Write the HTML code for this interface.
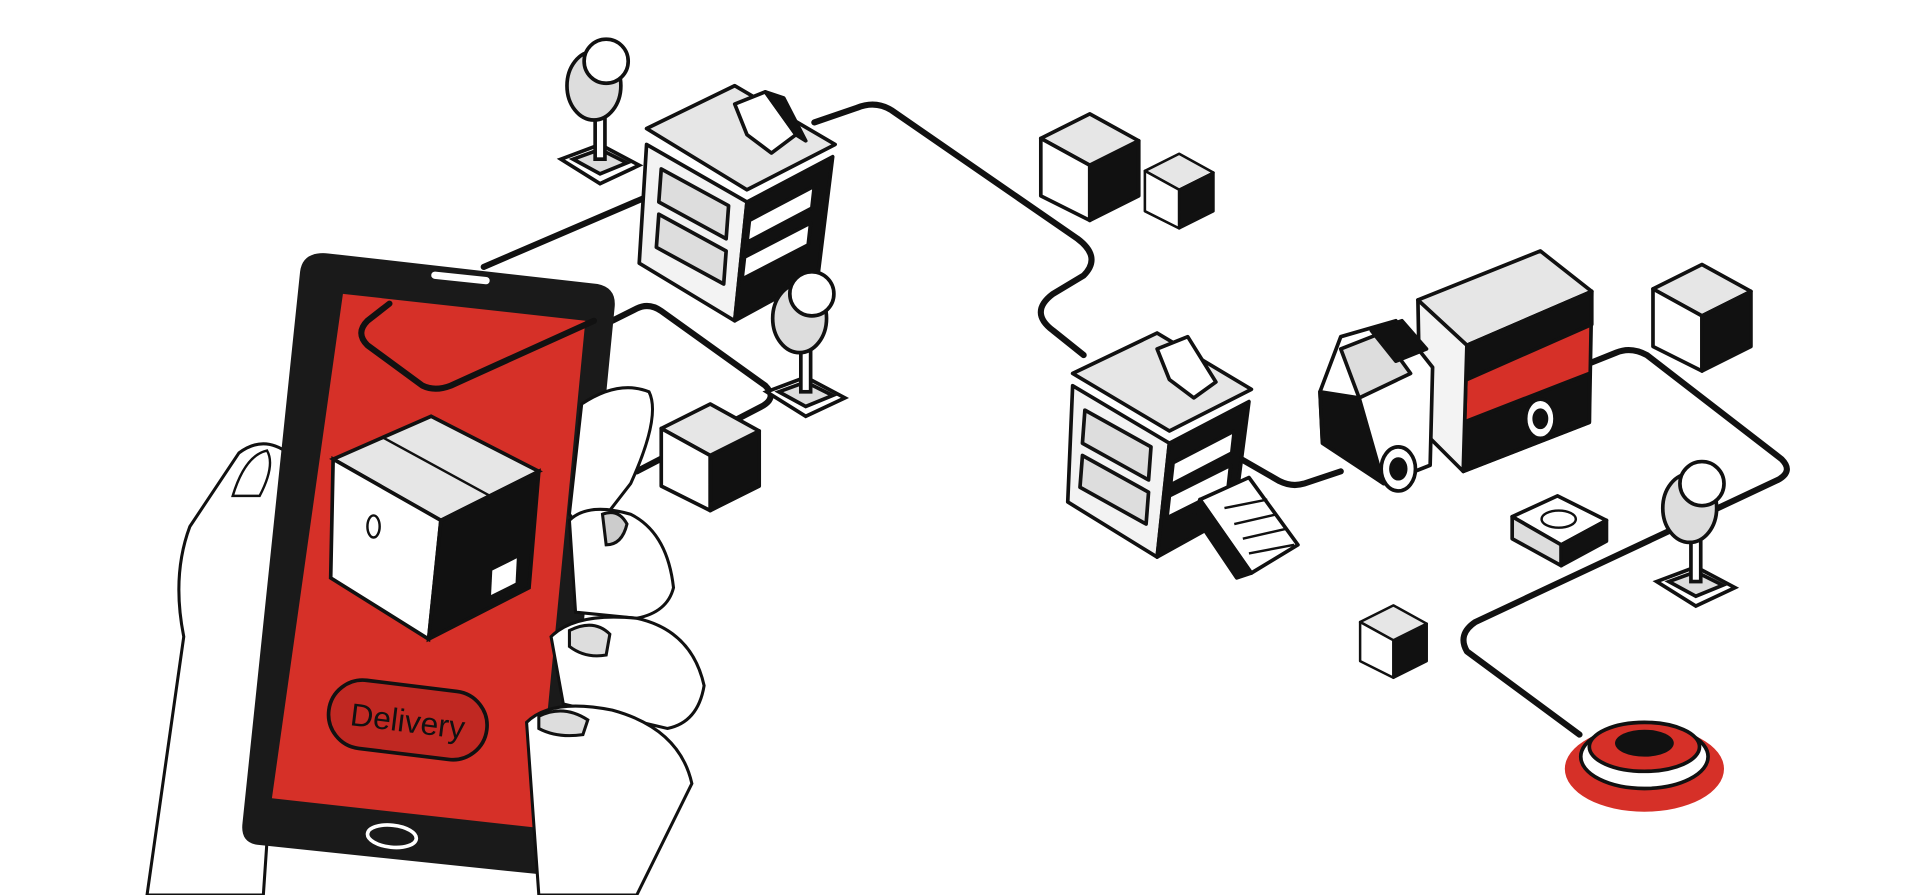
<!DOCTYPE html>
<html><head><meta charset="utf-8"><style>
html,body{margin:0;padding:0;background:#fff;width:1920px;height:895px;overflow:hidden}
svg{display:block}
</style></head><body>
<svg width="1920" height="895" viewBox="0 0 1568 731" xmlns="http://www.w3.org/2000/svg" font-family="Liberation Sans, sans-serif">
<g fill="none" stroke="#111" stroke-width="5" stroke-linecap="round" stroke-linejoin="round">
<path d="M395 218 L530 160"/>
<path d="M665 100 L700 88 Q715 82 728 90 L880 195 Q900 210 885 225 L860 240 Q840 255 860 270 L885 290"/>
<path d="M1005 370 L1045 393 Q1055 398 1065 395 L1095 385"/>
<path d="M1290 300 L1320 288 Q1332 283 1345 290 L1455 375 Q1465 385 1452 392 L1205 508 Q1190 518 1198 532 L1290 600"/>
<path d="M500 262 L520 252 Q530 247 540 254 L625 315 Q635 325 622 332 L520 385"/>
</g>
<!-- hand (left) -->
<path d="M120 731 L150 520 Q140 470 155 430 Q175 400 195 370 Q215 355 235 370 Q245 390 238 420 L232 480 L215 731 Z" fill="#fff" stroke="#111" stroke-width="2.5"/>
<path d="M190 405 Q200 372 218 368 Q225 380 212 405 Z" fill="#fff" stroke="#111" stroke-width="2"/>
<!-- phone -->
<path d="M268 207 L488 232 Q503 235 502 250 L458 700 Q456 716 440 714 L210 690 Q196 688 198 672 L245 222 Q247 205 268 207 Z" fill="#1a1a1a"/>
<path d="M280 240 L478 262 L438 676 L222 652 Z" fill="#d63028"/>
<rect x="352" y="224" width="48" height="6" rx="3" fill="#fff" transform="rotate(6 376 227)"/>
<ellipse cx="320" cy="683" rx="20" ry="9" fill="none" stroke="#fff" stroke-width="3" transform="rotate(6 320 683)"/>
<path d="M318 248 L300 262 Q290 272 300 282 L345 315 Q355 320 368 315 L485 262" fill="none" stroke="#111" stroke-width="5" stroke-linecap="round" stroke-linejoin="round"/>
<!-- box on screen -->
<polygon points="272,375 352,340 440,385 360,425" fill="#e6e6e6" stroke="#111" stroke-width="3"/>
<polygon points="272,375 360,425 350,522 270,472" fill="#fff" stroke="#111" stroke-width="3"/>
<polygon points="360,425 440,385 432,480 350,522" fill="#111" stroke="#111" stroke-width="3"/>
<path d="M312 357 L400 405" stroke="#111" stroke-width="2"/>
<polygon points="402,466 422,456 421,476 401,486" fill="#fff"/>
<ellipse cx="305" cy="430" rx="5" ry="9" fill="none" stroke="#111" stroke-width="2"/>
<!-- delivery pill -->
<g transform="rotate(7 333 588)">
<rect x="268" y="560" width="130" height="56" rx="28" fill="#c02822" stroke="#111" stroke-width="3"/>
<text x="333" y="598" text-anchor="middle" font-size="26" fill="#111">Delivery</text>
</g>
<!-- right hand fingers -->
<g fill="#fff" stroke="#111" stroke-width="2.5">
<path d="M475 330 Q505 310 530 320 Q540 340 515 395 L480 440 L465 420 Z"/>
<path d="M465 425 Q480 410 515 420 Q545 435 550 480 Q545 500 520 505 L470 500 Z"/>
<path d="M450 520 Q470 500 520 505 Q565 515 575 560 Q570 590 545 595 L460 575 Z"/>
<path d="M430 590 Q450 570 500 580 Q555 595 565 640 L520 731 L440 731 Z"/>
<path d="M492 420 Q505 415 512 428 Q508 445 495 445 Z" fill="#ccc"/>
<path d="M465 515 Q485 505 498 518 L495 535 Q478 538 465 528 Z" fill="#ddd"/>
<path d="M440 585 Q460 575 480 588 L476 600 Q455 603 440 595 Z" fill="#ddd"/>
</g>
<!-- building 1 -->
<g stroke="#111" stroke-width="3" stroke-linejoin="round">
<polygon points="528,105 600,70 682,118 610,155" fill="#e6e6e6"/>
<polygon points="528,118 610,165 600,262 522,215" fill="#f3f3f3"/>
<polygon points="610,165 680,128 668,225 600,262" fill="#111"/>
<polygon points="540,138 595,168 593,195 538,165" fill="#ddd"/>
<polygon points="538,175 593,205 591,232 536,202" fill="#ddd"/>
<polygon points="612,180 665,152 663,170 610,198" fill="#fff"/>
<polygon points="608,210 662,182 660,200 606,228" fill="#fff"/>
<polygon points="600,85 625,75 650,110 630,125 610,110" fill="#fff"/>
<polygon points="625,75 640,80 658,115 650,110" fill="#111"/>
</g>
<!-- building 2 -->
<g stroke="#111" stroke-width="3" stroke-linejoin="round">
<polygon points="876,305 945,272 1022,318 955,352" fill="#e6e6e6"/>
<polygon points="876,315 955,362 945,455 872,410" fill="#f3f3f3"/>
<polygon points="955,362 1020,328 1008,420 945,455" fill="#111"/>
<polygon points="886,335 940,365 938,392 884,362" fill="#ddd"/>
<polygon points="884,372 938,402 936,428 882,398" fill="#ddd"/>
<polygon points="958,378 1008,352 1006,370 956,396" fill="#fff"/>
<polygon points="955,405 1005,380 1003,398 953,423" fill="#fff"/>
<polygon points="945,285 970,275 993,312 975,325 955,310" fill="#fff"/>
<polygon points="980,408 1020,390 1060,445 1022,468" fill="#fff"/>
<polygon points="980,408 1022,468 1010,472 975,420" fill="#111"/>
<path d="M1000 415 L1035 408 M1008 428 L1043 420 M1015 440 L1050 432 M1020 452 L1057 445" stroke-width="2"/>
</g>
<!-- truck -->
<g stroke="#111" stroke-width="3" stroke-linejoin="round">
<polygon points="1158,245 1258,205 1300,238 1198,282" fill="#e6e6e6"/>
<polygon points="1198,282 1300,238 1298,345 1195,385" fill="#d63028"/>
<polygon points="1198,282 1300,238 1300,265 1198,310" fill="#111"/>
<polygon points="1195,345 1298,305 1298,345 1195,385" fill="#111"/>
<polygon points="1158,245 1198,282 1195,385 1160,350" fill="#f3f3f3"/>
<polygon points="1095,275 1140,262 1170,300 1168,380 1130,395 1080,360 1078,320" fill="#fff"/>
<polygon points="1095,285 1128,272 1152,305 1110,325" fill="#ddd"/>
<polygon points="1078,320 1110,325 1130,395 1080,362" fill="#111"/>
<polygon points="1120,270 1145,262 1165,285 1140,295" fill="#111"/>
<ellipse cx="1142" cy="383" rx="14" ry="18" fill="#fff"/>
<ellipse cx="1142" cy="383" rx="6" ry="8" fill="#111"/>
<ellipse cx="1258" cy="342" rx="12" ry="16" fill="#fff"/>
<ellipse cx="1258" cy="342" rx="5" ry="7" fill="#111"/>
</g>
<!-- trees -->
<g stroke="#111" stroke-width="3">
<g transform="translate(490,60)">
<polygon points="-32,70 0,58 32,75 0,90" fill="#fff"/><polygon points="-22,70 0,62 22,73 0,82" fill="#ddd"/>
<rect x="-4" y="28" width="8" height="42" fill="#fff"/>
<ellipse cx="-5" cy="10" rx="22" ry="28" fill="#ddd"/><circle cx="5" cy="-10" r="18" fill="#fff"/>
</g>
<g transform="translate(658,250)">
<polygon points="-32,70 0,58 32,75 0,90" fill="#fff"/><polygon points="-22,70 0,62 22,73 0,82" fill="#ddd"/>
<rect x="-4" y="28" width="8" height="42" fill="#fff"/>
<ellipse cx="-5" cy="10" rx="22" ry="28" fill="#ddd"/><circle cx="5" cy="-10" r="18" fill="#fff"/>
</g>
<g transform="translate(1385,405)">
<polygon points="-32,70 0,58 32,75 0,90" fill="#fff"/><polygon points="-22,70 0,62 22,73 0,82" fill="#ddd"/>
<rect x="-4" y="28" width="8" height="42" fill="#fff"/>
<ellipse cx="-5" cy="10" rx="22" ry="28" fill="#ddd"/><circle cx="5" cy="-10" r="18" fill="#fff"/>
</g>
</g>
<!-- small boxes -->
<g stroke="#111" stroke-width="3" stroke-linejoin="round">
<g transform="translate(890,135)">
<polygon points="-40,-22 0,-42 40,-20 0,0" fill="#e6e6e6"/><polygon points="-40,-22 0,0 0,45 -40,25" fill="#fff"/><polygon points="0,0 40,-20 40,25 0,45" fill="#111"/>
</g>
<g transform="translate(963,155) scale(0.7)">
<polygon points="-40,-22 0,-42 40,-20 0,0" fill="#e6e6e6"/><polygon points="-40,-22 0,0 0,45 -40,25" fill="#fff"/><polygon points="0,0 40,-20 40,25 0,45" fill="#111"/>
</g>
<g transform="translate(580,372)">
<polygon points="-40,-22 0,-42 40,-20 0,0" fill="#e6e6e6"/><polygon points="-40,-22 0,0 0,45 -40,25" fill="#fff"/><polygon points="0,0 40,-20 40,25 0,45" fill="#111"/>
</g>
<g transform="translate(1390,258)">
<polygon points="-40,-22 0,-42 40,-20 0,0" fill="#e6e6e6"/><polygon points="-40,-22 0,0 0,45 -40,25" fill="#fff"/><polygon points="0,0 40,-20 40,25 0,45" fill="#111"/>
</g>
<g transform="translate(1138,523) scale(0.68)">
<polygon points="-40,-22 0,-42 40,-20 0,0" fill="#e6e6e6"/><polygon points="-40,-22 0,0 0,45 -40,25" fill="#fff"/><polygon points="0,0 40,-20 40,25 0,45" fill="#111"/>
</g>
<polygon points="1235,422 1272,405 1312,425 1275,445" fill="#fff"/>
<polygon points="1235,422 1275,445 1275,462 1235,440" fill="#ddd"/>
<polygon points="1275,445 1312,425 1312,442 1275,462" fill="#111"/>
<ellipse cx="1273" cy="424" rx="14" ry="7" fill="#fff" stroke-width="2"/>
</g>
<!-- red target -->
<ellipse cx="1343" cy="628" rx="65" ry="35" fill="#d63028"/>
<ellipse cx="1343" cy="618" rx="52" ry="26" fill="#fff" stroke="#111" stroke-width="3"/>
<ellipse cx="1343" cy="610" rx="45" ry="20" fill="#d63028" stroke="#111" stroke-width="3"/>
<ellipse cx="1343" cy="607" rx="24" ry="11" fill="#111"/>
</svg>
</body></html>
